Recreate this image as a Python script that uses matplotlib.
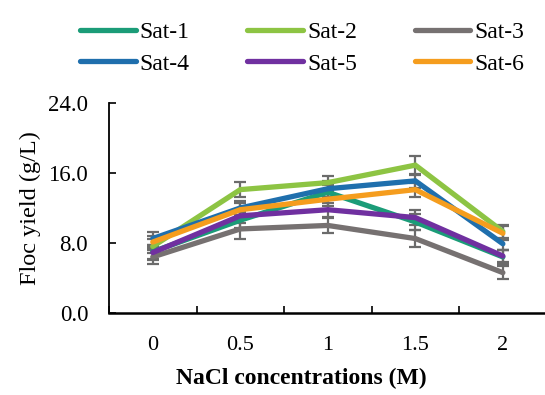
import matplotlib
matplotlib.use("Agg")
import matplotlib.pyplot as plt
import numpy as np

FONT = 'Liberation Serif'
plt.rcParams['font.family'] = FONT

concentrations = ["0", "0.5", "1", "1.5", "2"]
series_names = ["Sat-1", "Sat-2", "Sat-3", "Sat-4", "Sat-5", "Sat-6"]

sat1 = [7.0, 10.6, 13.8, 10.4, 6.4]
sat2 = [7.6, 14.1, 14.9, 16.9, 9.3]
sat3 = [6.4, 9.6, 10.0, 8.5, 4.6]
sat4 = [8.5, 12.0, 14.2, 15.1, 7.9]
sat5 = [6.9, 11.1, 11.8, 10.9, 6.5]
sat6 = [8.1, 11.8, 13.0, 14.1, 9.1]

err1 = [0.8, 0.9, 0.8, 0.9, 0.8]
err2 = [0.8, 0.85, 0.8, 1.1, 0.8]
err3 = [0.8, 1.1, 0.9, 1.0, 0.75]
err4 = [0.7, 0.8, 0.9, 0.8, 0.7]
err5 = [0.8, 0.8, 0.8, 0.9, 0.7]
err6 = [0.7, 0.8, 0.8, 0.8, 0.8]

values = [sat1, sat2, sat3, sat4, sat5, sat6]
errors = [err1, err2, err3, err4, err5, err6]
colors = ["#1b9c78", "#8dc443", "#767171", "#1f6fad", "#7030a0", "#f59d1e"]

fig = plt.figure(figsize=(5.45, 3.95), dpi=100)
ax = fig.add_axes([0.2, 0.208, 0.803, 0.531])

x = np.arange(len(concentrations))
handles = []
for name, v, e, c in zip(series_names, values, errors, colors):
    ax.errorbar(x, v, yerr=e, fmt='none', ecolor="#6b6b6b", elinewidth=1.6,
                capsize=4.5, capthick=1.6, zorder=2)
    h, = ax.plot(x, v, color=c, lw=3.8, label=name, solid_capstyle='round',
                 solid_joinstyle='miter', zorder=3)
    handles.append(h)

ax.set_xlim(-0.5, len(concentrations) - 0.5)
ax.set_ylim(0, 24)
yt = [0, 8, 16, 24]
ax.set_yticks(yt)
ax.set_yticklabels([f"{t:.1f}" for t in yt], family=FONT, fontsize=16.5)
ax.set_xticks(x)
ax.set_xticklabels(concentrations, family=FONT, fontsize=16)
ax.set_xticks(np.arange(-0.5, len(concentrations)), minor=True)
ax.tick_params(axis='x', which='major', length=0, pad=17)
ax.tick_params(axis='x', which='minor', direction='in', length=5, width=1.2)
ax.tick_params(axis='y', direction='in', length=5, width=1.2, pad=15)

for s in ['top', 'right']:
    ax.spines[s].set_visible(False)
ax.spines['left'].set_linewidth(1.3)
ax.spines['bottom'].set_linewidth(1.8)

ax.set_xlabel("NaCl concentrations (M)", family=FONT, fontsize=17,
              fontweight='bold')
ax.xaxis.set_label_coords(0.44, -0.262)
ax.xaxis.label.set_va('top')
ax.set_ylabel("Floc yield (g/L)", family=FONT, fontsize=17.5, labelpad=5)

# row-major legend order: 3 columns x 2 rows
order = [0, 3, 1, 4, 2, 5]
fig.legend([handles[i] for i in order], [series_names[i] for i in order],
           loc='upper left', bbox_to_anchor=(0.147, 0.945), ncol=3, frameon=False,
           prop={'family': FONT, 'size': 17}, handlelength=2.35,
           handletextpad=0.17, columnspacing=2.45,
           labelspacing=0.42, borderpad=0, borderaxespad=0)

fig.savefig("out.png", dpi=100)
